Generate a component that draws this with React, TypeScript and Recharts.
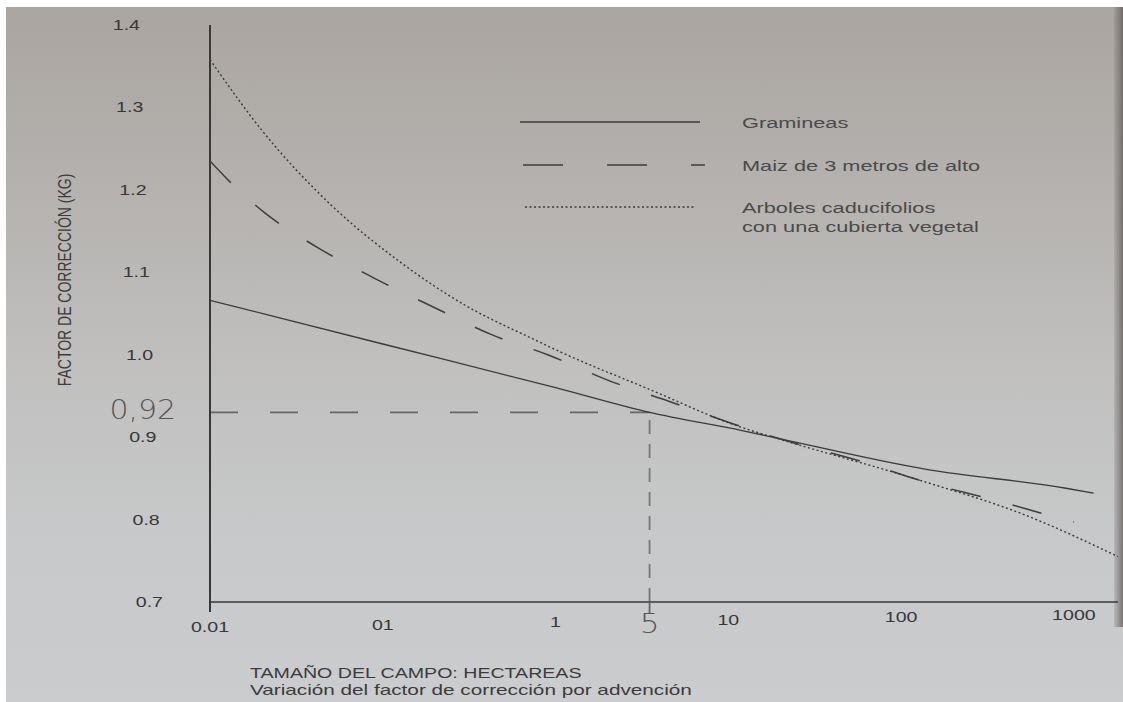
import React from 'react';
import { LineChart, Line, XAxis, YAxis, ReferenceLine, Legend } from 'recharts';

// ---- axis ticks ----
const xTicks = [0.01, 0.1, 1, 3.5, 10, 100, 1000];
const xTickLabels = ['0.01', '01', '1', '5', '10', '100', '1000'];
const yTicks = [0.7, 0.8, 0.9, 0.93, 1.0, 1.1, 1.2, 1.3, 1.4];
const yTickLabels = ['0.7', '0.8', '0.9', '0,92', '1.0', '1.1', '1.2', '1.3', '1.4'];

// hand-drawn reading guide (x = "5", y = "0,92")
const guideX = 3.5;
const guideY = 0.93;

// ---- series ----
const seriesNames = ['Gramineas', 'Maiz de 3 metros de alto', 'Arboles caducifolios'];
const legendLines = [['Gramineas'], ['Maiz de 3 metros de alto'], ['Arboles caducifolios', 'con una cubierta vegetal']];

const gramineasX = [0.01, 0.1, 1, 3.5, 12, 20, 140, 900, 1300];
const gramineasY = [1.066, 1.013, 0.96, 0.93, 0.908, 0.898, 0.861, 0.838, 0.832];

const maizX = [0.01, 0.013, 0.0205, 0.042, 0.089, 0.2, 0.43, 0.9, 2.07, 4.6, 10.7, 23, 60, 141, 343, 815, 1000];
const maizY = [1.235, 1.21, 1.173, 1.13, 1.093, 1.057, 1.024, 1.0, 0.968, 0.943, 0.916, 0.894, 0.87, 0.845, 0.824, 0.802, 0.797];

const arbolesX = [0.01, 0.02, 0.05, 0.125, 0.3, 0.76, 1.05, 3.4, 11.5, 19.5, 127, 530, 1800];
const arbolesY = [1.358, 1.272, 1.182, 1.113, 1.06, 1.018, 1.004, 0.959, 0.913, 0.898, 0.848, 0.805, 0.755];

const FONT = "'Liberation Sans', Arial, sans-serif";
const HAND = "'DejaVu Sans', sans-serif";
const INK = '#383838';

function XTick(props: any) {
  const { x, y, payload } = props;
  const v = payload.value as number;
  const i = xTicks.indexOf(v);
  const label = i >= 0 ? xTickLabels[i] : String(v);
  if (v === guideX) {
    return (
      <g>
        <line x1={x} x2={x} y1={y} y2={y + 12} stroke="#666" strokeWidth={1.8} />
        <text transform={`translate(${x},${y + 31}) scale(1.15,1)`} textAnchor="middle" fontSize={27} fontFamily={HAND} fontWeight={300} fill="#555">
          {label}
        </text>
      </g>
    );
  }
  const dec = Math.log10(v) + 2;
  const off = 25 - dec * 2.4 + 5;
  return (
    <g>
      {i === 0 ? <line x1={x} x2={x} y1={y} y2={y + 10} stroke={INK} strokeWidth={2} /> : null}
      <text transform={`translate(${x},${y + off}) scale(1.4,1)`} textAnchor="middle" fontSize={14} fontFamily={FONT} fill={INK}>
        {label}
      </text>
    </g>
  );
}

function YTick(props: any) {
  const { x, y, payload } = props;
  const v = payload.value as number;
  const i = yTicks.indexOf(v);
  const label = i >= 0 ? yTickLabels[i] : String(v);
  if (v === guideY) {
    return (
      <text transform={`translate(${x - 34},${y + 7}) scale(1.15,1)`} textAnchor="end" fontSize={26} fontFamily={HAND} fontWeight={300} fill="#555">
        {label}
      </text>
    );
  }
  const off = 47 + ((v - 0.7) / 0.7) * 23;
  return (
    <text transform={`translate(${x - off},${y + 5}) scale(1.4,1)`} textAnchor="end" fontSize={14} fontFamily={FONT} fill={INK}>
      {label}
    </text>
  );
}

const dashes = ['0', '40 44', '2 2.5'];

function LegendBox() {
  const rows = [
    { y: 15, x1: 4, x2: 184 },
    { y: 58, x1: 7, x2: 189 },
    { y: 100, x1: 9, x2: 179 },
  ];
  return (
    <svg width={520} height={140} style={{ display: 'block' }}>
      {legendLines.map((lines, k) => (
        <g key={k}>
          <line x1={rows[k].x1} x2={rows[k].x2} y1={rows[k].y} y2={rows[k].y} stroke="#3c3c3c" strokeWidth={k === 2 ? 1.4 : 1.3} strokeDasharray={dashes[k] === '0' ? undefined : dashes[k]} />
          {lines.map((t, j) => (
            <text key={j} transform={`translate(226,${rows[k].y + 6 + j * 19}) scale(1.45,1)`} fontSize={15} fontFamily={FONT} fill="#4a4a4a">
              {t}
            </text>
          ))}
        </g>
      ))}
    </svg>
  );
}

export default function App() {
  const gram = gramineasX.map((x, i) => ({ x, y: gramineasY[i] }));
  const maiz = maizX.map((x, i) => ({ x, y: maizY[i] }));
  const arb = arbolesX.map((x, i) => ({ x, y: arbolesY[i] }));

  return (
    <div
      style={{
        position: 'absolute',
        left: 6,
        top: 7,
        width: 1117,
        height: 695,
        overflow: 'hidden',
        background: 'linear-gradient(180deg, #aaa5a1 0%, #b4b1ae 25%, #c0bfbe 50%, #c7c8c9 75%, #cbcccd 100%)',
      }}
    >
      <div style={{ position: 'absolute', right: 0, top: 0, width: 9, height: 620, background: 'linear-gradient(90deg, rgba(120,115,112,0.2), rgba(95,90,88,0.75))' }} />
      <LineChart width={1117} height={695} margin={{ top: 18, right: 5, bottom: 60, left: 0 }}>
        <XAxis
          type="number"
          dataKey="x"
          scale="log"
          domain={[0.01, 1800]}
          ticks={xTicks}
          interval={0}
          allowDataOverflow
          height={40}
          tickSize={0}
          tickMargin={0}
          tickLine={false}
          axisLine={{ stroke: INK, strokeWidth: 1.4 }}
          tick={<XTick />}
          label={{
            content: () => (
              <g>
                <text transform="translate(244,671) scale(1.4,1)" fontSize={14} fontFamily={FONT} fill="#3c3c3c">
                  TAMAÑO DEL CAMPO: HECTAREAS
                </text>
                <text transform="translate(244,688) scale(1.43,1)" fontSize={14.5} fontFamily={FONT} fill="#3c3c3c">
                  Variación del factor de corrección por advención
                </text>
              </g>
            ),
          }}
        />
        <YAxis
          type="number"
          domain={[0.7, 1.4]}
          ticks={yTicks}
          interval={0}
          width={204}
          tickSize={0}
          tickMargin={0}
          tickLine={false}
          axisLine={{ stroke: INK, strokeWidth: 2 }}
          tick={<YTick />}
          label={{
            content: () => (
              <text transform="translate(65,273) scale(1.3,1) rotate(-90)" textAnchor="middle" fontSize={14} fontFamily={FONT} fill="#3c3c3c">
                FACTOR DE CORRECCIÓN (KG)
              </text>
            ),
          }}
        />
        <ReferenceLine segment={[{ x: 0.01, y: guideY }, { x: guideX, y: guideY }]} stroke="#666" strokeWidth={1.8} strokeDasharray="28 32" />
        <ReferenceLine segment={[{ x: guideX, y: 0.7 }, { x: guideX, y: guideY }]} stroke="#777" strokeWidth={1.8} strokeDasharray="14 10" />
        <Line data={gram} dataKey="y" name={seriesNames[0]} type="monotone" stroke="#3a3a3a" strokeWidth={1.3} dot={false} activeDot={false} isAnimationActive={false} />
        <Line data={maiz} dataKey="y" name={seriesNames[1]} type="monotone" stroke="#3e3e3e" strokeWidth={1.5} strokeDasharray="30 33" dot={false} activeDot={false} isAnimationActive={false} />
        <Line data={arb} dataKey="y" name={seriesNames[2]} type="monotone" stroke="#3a3a3a" strokeWidth={1.4} strokeDasharray="2 2.5" dot={false} activeDot={false} isAnimationActive={false} />
        <Legend
          layout="vertical"
          align="center"
          verticalAlign="middle"
          content={() => <LegendBox />}
          wrapperStyle={{ left: 510, top: 100, width: 520, height: 140 }}
        />
      </LineChart>
    </div>
  );
}
